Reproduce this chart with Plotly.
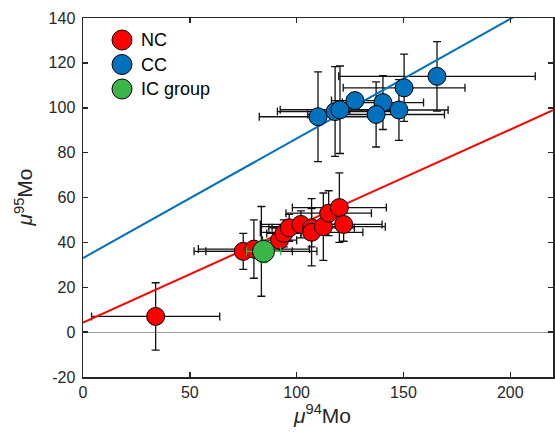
import plotly.graph_objects as go

# ---- data ----
nc_x = [34, 75, 80, 83.5, 92, 94, 96.5, 102, 107, 107, 112.5, 115, 120, 122]
nc_y = [7, 36, 37, 36, 41, 44, 46.5, 48, 46.5, 44.5, 47, 53, 55.5, 48]
nc_xerr = [30, 23, 26, 26, 8, 8, 8, 19, 20, 24, 29, 20, 22, 18]
nc_yerr = [15, 8, 13, 20, 5, 6, 6, 6, 8.5, 15, 15, 10, 15.5, 7.5]

cc_x = [110, 118, 120.3, 127.3, 140.4, 137.2, 147.9, 150.3, 165.7]
cc_y = [96, 98.3, 99.1, 103.2, 102.3, 97, 99, 108.9, 114]
cc_xerr = [27.5, 27, 28, 11, 19, 32, 23, 28.5, 46]
cc_yerr = [20, 20, 19.5, 3.5, 12, 14.5, 13.5, 15, 15.5]

ic_x = [84.5]
ic_y = [36]
ic_xerr = [8]
ic_yerr = [5]

# regression lines: (intercept, slope)
nc_fit = (4.3, 0.43)
cc_fit = (33.0, 0.533)
line_x = [0, 220]

x_ticks = [0, 50, 100, 150, 200]
x_ticktext = ["0", "50", "100", "150", "200"]
y_ticks = [-20, 0, 20, 40, 60, 80, 100, 120, 140]
y_ticktext = ["-20", "0", "20", "40", "60", "80", "100", "120", "140"]

legend_labels = ["NC", "CC", "IC group"]

RED = "#FF0000"
BLUE = "#0072BD"
GREEN = "#3AB54A"
AX = "#262626"
FONT = "Liberation Sans, Arial, sans-serif"

fig = go.Figure()

def err_trace(x, y, ex, ey, color):
    return go.Scatter(
        x=x, y=y, mode="markers",
        marker=dict(size=1, color="rgba(0,0,0,0)"),
        error_x=dict(type="data", array=ex, color=color, thickness=1.3, width=4),
        error_y=dict(type="data", array=ey, color=color, thickness=1.3, width=4),
        showlegend=False, hoverinfo="skip",
    )

fig.add_trace(err_trace(cc_x, cc_y, cc_xerr, cc_yerr, "#111111"))
fig.add_trace(err_trace(nc_x, nc_y, nc_xerr, nc_yerr, "#111111"))

for (b, m), col in [(nc_fit, RED), (cc_fit, BLUE)]:
    fig.add_trace(go.Scatter(
        x=line_x, y=[b + m * v for v in line_x], mode="lines",
        line=dict(color=col, width=2), showlegend=False, hoverinfo="skip"))

fig.add_trace(go.Scatter(
    x=nc_x, y=nc_y, mode="markers", name="NC",
    marker=dict(size=18, color=RED, line=dict(color="black", width=1)),
    showlegend=False))
fig.add_trace(go.Scatter(
    x=cc_x, y=cc_y, mode="markers", name="CC",
    marker=dict(size=18, color=BLUE, line=dict(color="black", width=1)),
    showlegend=False))
fig.add_trace(err_trace(ic_x, ic_y, ic_xerr, ic_yerr, GREEN))
fig.add_trace(go.Scatter(
    x=ic_x, y=ic_y, mode="markers", name="IC group",
    marker=dict(size=22, color=GREEN, line=dict(color="black", width=1)),
    showlegend=False))

FW, FH = 555, 435
L, T, W, H = 83, 18, 470, 359

shapes = []
annotations = []
for i, (lab, col) in enumerate(zip(legend_labels, [RED, BLUE, GREEN])):
    py = 40 + i * 24.5
    yp = (T + H - py) / H
    xp = (122 - L) / W
    shapes.append(dict(type="circle", xref="paper", yref="paper",
                       xsizemode="pixel", ysizemode="pixel",
                       xanchor=xp, yanchor=yp, x0=-10, x1=10, y0=-10, y1=10,
                       fillcolor=col, line=dict(color="black", width=1)))
    annotations.append(dict(text=lab, xref="paper", yref="paper",
                            x=(139 - L) / W, y=yp, xanchor="left", yanchor="middle",
                            showarrow=False, font=dict(family=FONT, size=18, color="black")))

annotations.append(dict(text="<i>μ</i><sup>94</sup>Mo", xref="paper", yref="paper",
                        x=(322 - L) / W, y=(T + H - 414) / H, xanchor="center", yanchor="middle",
                        showarrow=False, font=dict(family=FONT, size=21, color=AX)))
annotations.append(dict(text="<i>μ</i><sup>95</sup>Mo", xref="paper", yref="paper",
                        x=(23 - L) / W, y=0.5, xanchor="center", yanchor="middle",
                        textangle=-90,
                        showarrow=False, font=dict(family=FONT, size=21, color=AX)))

axis_common = dict(showline=True, linecolor=AX, linewidth=1.5, mirror="ticks",
                   ticks="inside", ticklen=5, tickwidth=1.5, tickcolor=AX,
                   showgrid=False, tickfont=dict(family=FONT, size=16, color=AX))

fig.update_layout(
    width=FW, height=FH,
    margin=dict(l=L, r=FW - L - W, t=T, b=FH - T - H, autoexpand=False),
    plot_bgcolor="white", paper_bgcolor="white",
    shapes=shapes, annotations=annotations,
    xaxis=dict(range=[0, 220], tickvals=x_ticks, ticktext=x_ticktext,
               zeroline=False, **axis_common),
    yaxis=dict(range=[-20, 140], tickvals=y_ticks, ticktext=y_ticktext,
               zeroline=True, zerolinecolor="#9a9a9a", zerolinewidth=1,
               ticklabelstandoff=3, **axis_common),
)

fig.write_html(
    "out.html",
    config={"displayModeBar": False, "staticPlot": True},
    post_script="document.body.style.margin='0';document.body.style.overflow='hidden';",
)
